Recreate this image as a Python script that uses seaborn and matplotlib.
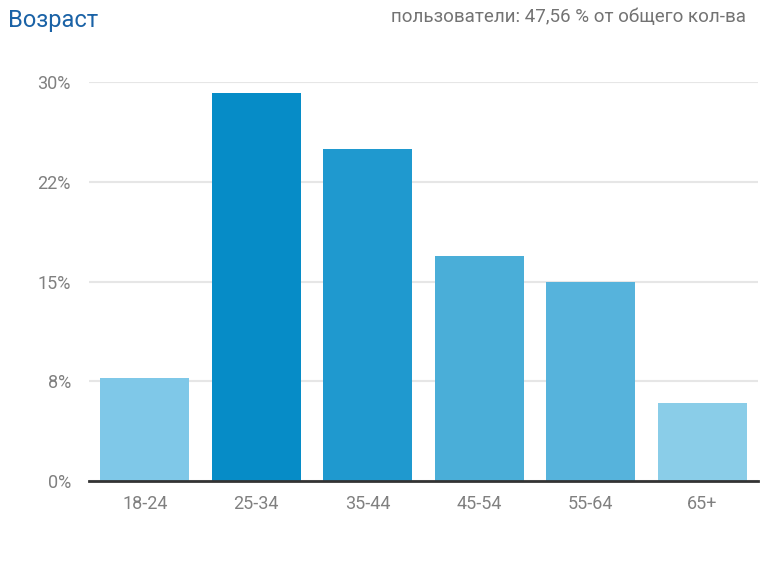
import pandas as pd
import matplotlib
matplotlib.use("Agg")
import matplotlib.pyplot as plt
import seaborn as sns

# данные
age_groups = ["18-24", "25-34", "35-44", "45-54", "55-64", "65+"]
share = [7.73, 29.2, 24.98, 16.9, 15.0, 5.85]
y_ticks = [0, 7.5, 15, 22.5, 30]
y_tick_labels = ["0%", "8%", "15%", "22%", "30%"]

bar_colors = ["#7fc8e8", "#068cc7", "#1f99cf", "#4aaed8", "#56b3dc", "#8acde8"]

sns.set_theme(style="white")
plt.rcParams["font.family"] = ["Roboto", "DejaVu Sans"]

df = pd.DataFrame({"Возраст": age_groups, "share": share})

fig = plt.figure(figsize=(7.68, 5.70), dpi=100)
ax = fig.add_axes([0.1159, 0.156, 0.871, 0.700])

sns.barplot(
    data=df,
    x="Возраст",
    y="share",
    hue="Возраст",
    palette=bar_colors,
    legend=False,
    width=0.8,
    saturation=1,
    edgecolor="none",
    linewidth=0,
    ax=ax,
)

ax.set_ylim(0, 30)
ax.set_yticks(y_ticks)
ax.set_yticklabels(y_tick_labels)
ax.set_xlabel("")
ax.set_ylabel("")
ax.grid(axis="y", color="#e6e6e6", linewidth=1.5)
ax.set_axisbelow(True)

for side in ["top", "right", "left"]:
    ax.spines[side].set_visible(False)
ax.spines["bottom"].set_color("#333333")
ax.spines["bottom"].set_linewidth(2)
ax.spines["bottom"].set_zorder(5)

ax.tick_params(axis="y", length=0, pad=13, labelsize=13, labelcolor="#808080")
ax.tick_params(axis="x", length=0, pad=10, labelsize=13, labelcolor="#808080")

fig.text(0.010, 0.964, "Возраст", fontsize=17, color="#1a62a6",
         ha="left", va="center")
fig.text(0.971, 0.970, "пользователи: 47,56 % от общего кол-ва", fontsize=13.5,
         color="#737373", ha="right", va="center")

fig.savefig("out.png", dpi=100)
